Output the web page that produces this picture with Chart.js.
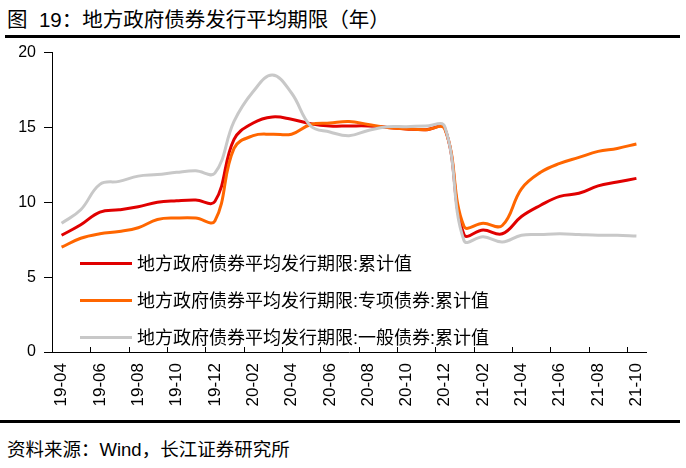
<!DOCTYPE html>
<html lang="zh">
<head>
    <meta charset="UTF-8">
    <title>地方政府债券发行平均期限</title>
    <script src="https://cdn.jsdelivr.net/npm/chart.js"></script>
    <style>
        body { margin: 0; width: 686px; height: 468px; background: #fff; position: relative; overflow: hidden;
               font-family: "Liberation Sans", "Noto Sans CJK SC", sans-serif; color: #000; }
        .title { position: absolute; left: 7px; top: 7px; font-size: 20.5px; line-height: 26px; white-space: pre; }
        .rule-top { position: absolute; left: 5px; right: 6px; top: 35px; border-top: 3px solid #000; z-index: 1; }
        .rule-bottom { position: absolute; left: 0; right: 6px; top: 420px; border-top: 3px solid #000; }
        .source { position: absolute; left: 7px; top: 437px; font-size: 18.5px; line-height: 26px; }
        .chart-box { position: absolute; left: 0; top: 35px; width: 686px; height: 380px; }
    </style>
</head>
<body>
    <div class="title">图  19：地方政府债券发行平均期限（年）</div>
    <div class="chart-box"><canvas id="termChart"></canvas></div>
    <div class="rule-top"></div>
    <div class="rule-bottom"></div>
    <div class="source">资料来源：Wind，长江证券研究所</div>

    <script>
// monthly data, 2019-04 .. 2021-10
const months = ['19-04','19-05','19-06','19-07','19-08','19-09','19-10','19-11','19-12',
    '20-01','20-02','20-03','20-04','20-05','20-06','20-07','20-08','20-09','20-10','20-11','20-12',
    '21-01','21-02','21-03','21-04','21-05','21-06','21-07','21-08','21-09','21-10'];

const totalTerm = [7.8, 8.5, 9.35, 9.5, 9.7, 10.0, 10.1, 10.15, 10.05,
    14.2, 15.3, 15.7, 15.55, 15.25, 15.1, 15.1, 15.1, 15.0, 14.9, 14.85, 14.95,
    7.85, 8.15, 7.9, 9.05, 9.8, 10.4, 10.6, 11.1, 11.35, 11.6];

const specialTerm = [7.0, 7.6, 7.9, 8.05, 8.3, 8.85, 8.95, 8.95, 8.75,
    13.6, 14.45, 14.55, 14.55, 15.2, 15.3, 15.4, 15.2, 15.0, 14.9, 14.85, 14.9,
    8.4, 8.6, 8.45, 10.9, 12.0, 12.6, 13.0, 13.4, 13.6, 13.9];

const generalTerm = [8.6, 9.5, 11.2, 11.4, 11.75, 11.85, 12.0, 12.1, 11.95,
    15.4, 17.4, 18.5, 17.3, 15.1, 14.7, 14.45, 14.8, 15.05, 15.05, 15.1, 15.05,
    7.45, 7.7, 7.35, 7.8, 7.85, 7.9, 7.85, 7.8, 7.8, 7.75];

const yTicks = [0, 5, 10, 15, 20];

// legend drawn inside the plot, lower left
const innerLegend = {
    id: 'innerLegend',
    afterDatasetsDraw(chart) {
        const ctx = chart.ctx;
        const area = chart.chartArea;
        ctx.save();
        ctx.font = '18px "Liberation Sans", "Noto Sans CJK SC"';
        ctx.textBaseline = 'middle';
        ctx.fillStyle = '#000';
        chart.data.datasets.forEach((ds, i) => {
            const y = area.top + 211 + i * 37;
            ctx.strokeStyle = ds.borderColor;
            ctx.lineWidth = 3;
            ctx.beginPath();
            ctx.moveTo(area.left + 28, y);
            ctx.lineTo(area.left + 80, y);
            ctx.stroke();
            ctx.fillText(ds.label, area.left + 85, y + 1);
        });
        ctx.restore();
    }
};

// short tick marks pointing up from the category axis, every 2 months
const innerTicks = {
    id: 'innerTicks',
    afterDraw(chart) {
        const xs = chart.scales.x;
        const ctx = chart.ctx;
        const half = (xs.getPixelForValue(1) - xs.getPixelForValue(0)) / 2;
        ctx.save();
        ctx.strokeStyle = '#000';
        ctx.lineWidth = 1;
        for (let i = 0; i < months.length; i += 2) {
            const x = Math.round(xs.getPixelForValue(i) - half) + 0.5;
            ctx.beginPath();
            ctx.moveTo(x, xs.top);
            ctx.lineTo(x, xs.top - 5);
            ctx.stroke();
        }
        ctx.restore();
    }
};

const ctx = document.getElementById('termChart').getContext('2d');
new Chart(ctx, {
    type: 'line',
    data: {
        labels: months,
        datasets: [
            { label: '地方政府债券平均发行期限:累计值', data: totalTerm, borderColor: '#E00000', order: 2 },
            { label: '地方政府债券平均发行期限:专项债券:累计值', data: specialTerm, borderColor: '#FF6600', order: 1 },
            { label: '地方政府债券平均发行期限:一般债券:累计值', data: generalTerm, borderColor: '#C8C8C8', order: 0 }
        ]
    },
    options: {
        responsive: true,
        maintainAspectRatio: false,
        animation: false,
        events: [],
        datasets: {
            line: { borderWidth: 3, pointRadius: 0, tension: 0.4, fill: false }
        },
        layout: { padding: { top: 7, right: 40, left: 0, bottom: 0 } },
        plugins: { legend: { display: false }, tooltip: { enabled: false } },
        scales: {
            x: {
                offset: true,
                grid: { offset: true, drawOnChartArea: false, drawTicks: false },
                border: { color: '#000', width: 1 },
                ticks: {
                    autoSkip: false, minRotation: 90, maxRotation: 90, padding: 11,
                    color: '#000', font: { family: 'Liberation Sans', size: 17 },
                    callback: (v, i) => (i % 2 === 0 ? months[i] : '')
                },
                afterFit: s => { s.height = 63; }
            },
            y: {
                min: 0, max: 20,
                afterBuildTicks: s => { s.ticks = yTicks.map(v => ({ value: v })); },
                grid: { drawOnChartArea: false, tickLength: 8, color: '#000' },
                border: { color: '#000', width: 1 },
                ticks: { padding: 8, color: '#000', font: { family: 'Liberation Sans', size: 16 } },
                afterFit: s => { s.width = 52; }
            }
        }
    },
    plugins: [innerLegend, innerTicks]
});
    </script>
</body>
</html>
